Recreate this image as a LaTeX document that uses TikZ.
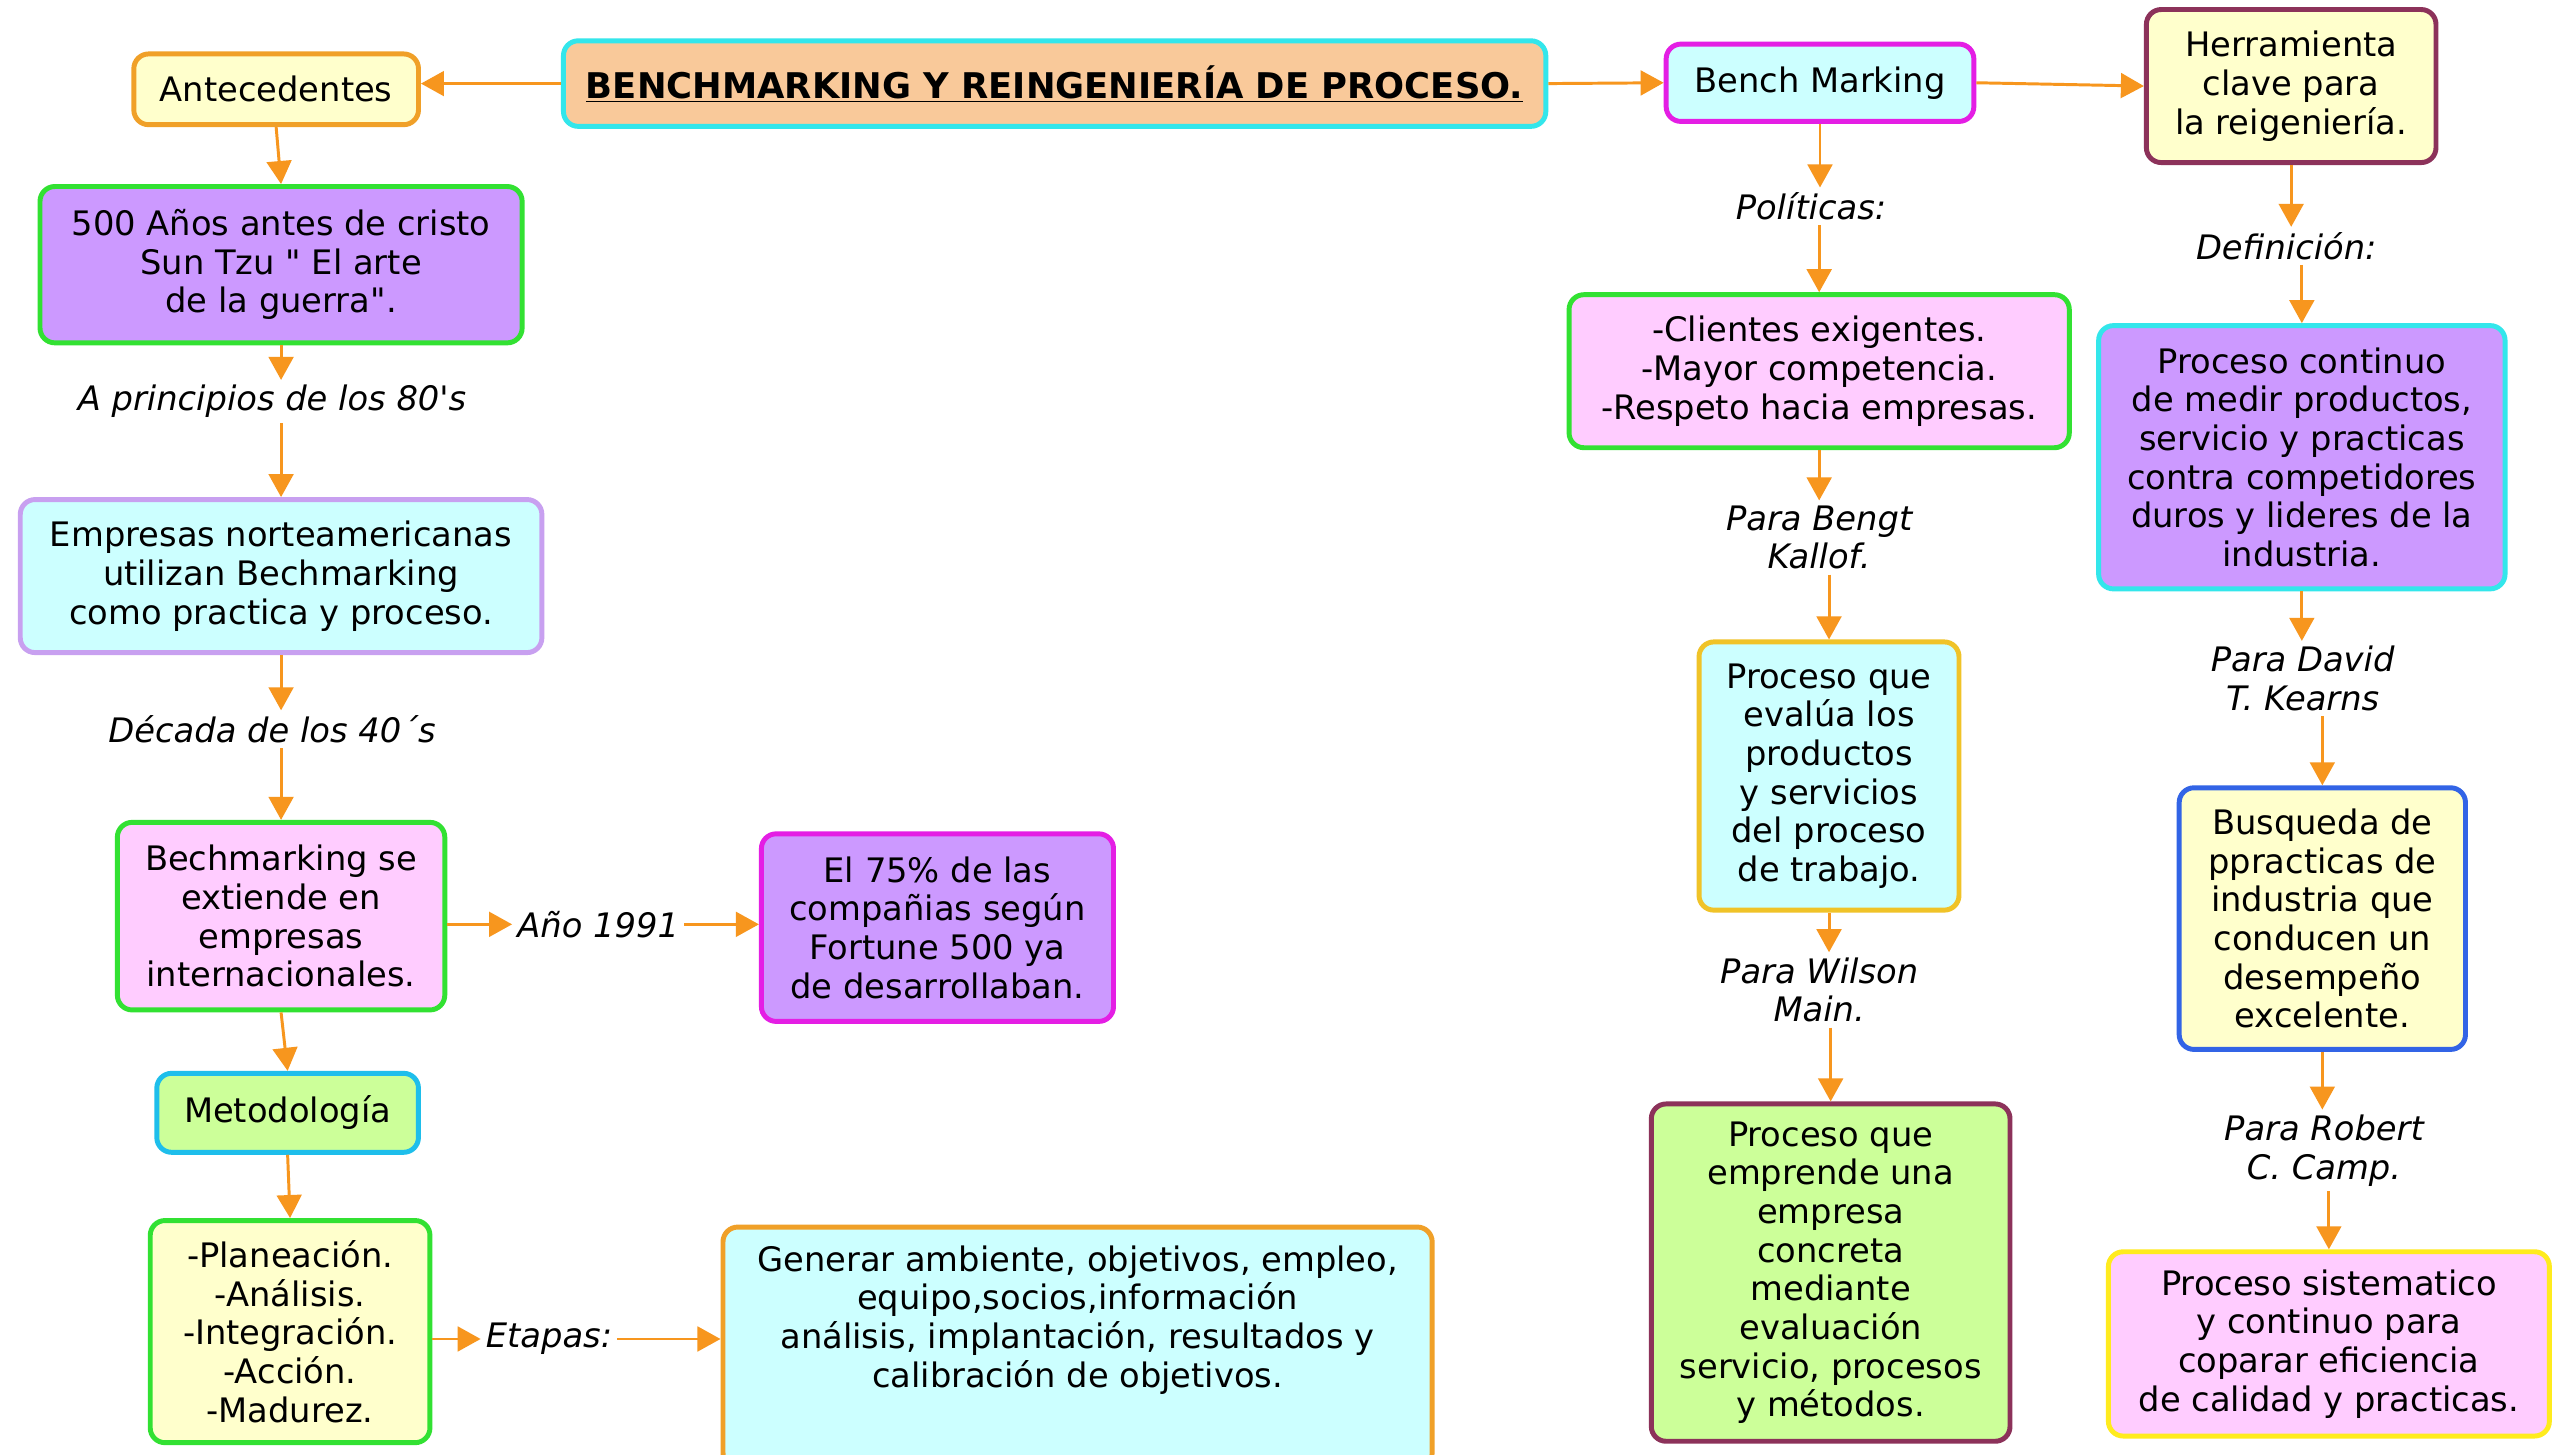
\documentclass[tikz,border=0pt]{standalone}
\usepackage{fontspec}
\setmainfont{DejaVu Sans}[Ligatures=TeXOff]
\usetikzlibrary{arrows.meta}
\definecolor{arrc}{RGB}{247,150,30}
\definecolor{peach}{RGB}{249,201,154}
\definecolor{cyanb}{RGB}{51,230,235}
\definecolor{lyel}{RGB}{255,255,204}
\definecolor{orab}{RGB}{240,160,40}
\definecolor{magb}{RGB}{228,30,228}
\definecolor{lcyan}{RGB}{204,255,255}
\definecolor{marb}{RGB}{140,50,90}
\definecolor{purp}{RGB}{204,153,255}
\definecolor{grnb}{RGB}{50,225,50}
\definecolor{lavb}{RGB}{200,160,240}
\definecolor{pink}{RGB}{255,204,255}
\definecolor{lgrn}{RGB}{204,255,153}
\definecolor{metb}{RGB}{30,190,235}
\definecolor{goldb}{RGB}{240,195,40}
\definecolor{blueb}{RGB}{50,100,230}
\definecolor{yelb}{RGB}{255,235,30}
\tikzset{
  box/.style={rounded corners=9pt, line width=3pt, align=center, inner sep=0pt,
    font=\fontsize{20.5}{23.5}\selectfont},
  lbl/.style={align=center, inner sep=3pt, font=\fontsize{20.5}{23.5}\selectfont\itshape},
  arr/.style={draw=arrc, line width=1.8pt, -{Triangle[length=14pt,width=15pt]}},
}
\begin{document}
\begin{tikzpicture}[x=0.996pt,y=-0.996pt]
\useasboundingbox[fill=white] (0,0) rectangle (1566.3,887.2);
% boxes
\node[box, draw=cyanb, fill=peach, minimum width=597pt, minimum height=52pt] (title) at (643.5,51)
  {\fontsize{21.5}{23.5}\selectfont\bfseries\underline{BENCHMARKING Y REINGENIERÍA DE PROCESO.}};
\node[box, draw=orab, fill=lyel, minimum width=173pt, minimum height=43pt] (ante) at (168.5,54.5) {Antecedentes};
\node[box, draw=magb, fill=lcyan, minimum width=187pt, minimum height=47pt] (bench) at (1110.5,50.5) {Bench Marking};
\node[box, draw=marb, fill=lyel, minimum width=176pt, minimum height=93pt] (herr) at (1398,52.5) {Herramienta\\clave para\\la reigeniería.};
\node[box, draw=grnb, fill=purp, minimum width=293pt, minimum height=95pt] (sun) at (171.5,161.5) {500 Años antes de cristo\\Sun Tzu " El arte\\de la guerra".};
\node[box, draw=lavb, fill=lcyan, minimum width=317pt, minimum height=93pt] (emp) at (171.5,351.5) {Empresas norteamericanas\\utilizan Bechmarking\\como practica y proceso.};
\node[box, draw=grnb, fill=pink, minimum width=199pt, minimum height=114pt] (ext) at (171.5,559) {Bechmarking se\\extiende en\\empresas\\internacionales.};
\node[box, draw=magb, fill=purp, minimum width=214pt, minimum height=114pt] (p75) at (572,566) {El 75\% de las\\compañias según\\Fortune 500 ya\\de desarrollaban.};
\node[box, draw=metb, fill=lgrn, minimum width=159pt, minimum height=48pt] (met) at (175.5,679) {Metodología};
\node[box, draw=grnb, fill=lyel, minimum width=170pt, minimum height=135pt] (plan) at (177,812.5) {-Planeación.\\-Análisis.\\-Integración.\\-Acción.\\-Madurez.};
\node[box, draw=orab, fill=lcyan, minimum width=431pt, minimum height=146pt] (gen) at (657.5,822) {Generar ambiente, objetivos, empleo,\\equipo,socios,información\\análisis, implantación, resultados y\\calibración de objetivos.\\[14pt]\mbox{}};
\node[box, draw=grnb, fill=pink, minimum width=304pt, minimum height=93pt] (cli) at (1110,226.5) {-Clientes exigentes.\\-Mayor competencia.\\-Respeto hacia empresas.};
\node[box, draw=goldb, fill=lcyan, minimum width=158pt, minimum height=163pt] (eval) at (1116,473.5) {Proceso que\\evalúa los\\productos\\y servicios\\del proceso\\de trabajo.};
\node[box, draw=marb, fill=lgrn, minimum width=218pt, minimum height=205pt] (empr) at (1117,776.5) {Proceso que\\emprende una\\empresa\\concreta\\mediante\\evaluación\\servicio, procesos\\y métodos.};
\node[box, draw=cyanb, fill=purp, minimum width=247pt, minimum height=160pt] (cont) at (1404.5,279) {Proceso continuo\\de medir productos,\\servicio y practicas\\contra competidores\\duros y lideres de la\\industria.};
\node[box, draw=blueb, fill=lyel, minimum width=174pt, minimum height=159pt] (busq) at (1417,560.5) {Busqueda de\\ppracticas de\\industria que\\conducen un\\desempeño\\excelente.};
\node[box, draw=yelb, fill=pink, minimum width=268pt, minimum height=112pt] (sist) at (1421,820) {Proceso sistematico\\y continuo para\\coparar eficiencia\\de calidad y practicas.};
% labels
\node[lbl] (l80) at (166,245) {A principios de los 80's};
\node[lbl] (l40) at (166,445) {Década de los 40´s};
\node[lbl] (l91) at (365,564) {Año 1991};
\node[lbl] (letap) at (335,817) {Etapas:};
\node[lbl] (lpol) at (1105,126) {Políticas:};
\node[lbl] (lbengt) at (1110,328) {Para Bengt\\Kallof.};
\node[lbl] (lwil) at (1110,604) {Para Wilson\\Main.};
\node[lbl] (ldef) at (1395,150) {Definición:};
\node[lbl] (ldav) at (1405,414) {Para David\\T. Kearns};
\node[lbl] (lrob) at (1418,702) {Para Robert\\C. Camp.};
% connectors
\draw[arr] (title.west) -- (ante.east |- title.west);
\draw[arr] (title.east) -- (bench.west);
\draw[arr] (bench.east) -- (herr.west);
\draw[arr] (ante.south) -- (sun.north);
\draw[arr] (sun.south) -- (sun.south |- l80.north);
\draw[arr] (emp.north |- l80.south) -- (emp.north);
\draw[arr] (emp.south) -- (emp.south |- l40.north);
\draw[arr] (ext.north |- l40.south) -- (ext.north);
\draw[arr] (ext.east |- l91.west) -- (l91.west);
\draw[arr] (l91.east) -- (p75.west |- l91.east);
\draw[arr] (ext.south) -- (met.north);
\draw[arr] (met.south) -- (plan.north);
\draw[arr] (plan.east |- letap.west) -- (letap.west);
\draw[arr] (letap.east) -- (gen.west |- letap.east);
\draw[arr] (bench.south) -- (bench.south |- lpol.north);
\draw[arr] (cli.north |- lpol.south) -- (cli.north);
\draw[arr] (cli.south) -- (cli.south |- lbengt.north);
\draw[arr] (eval.north |- lbengt.south) -- (eval.north);
\draw[arr] (eval.south) -- (eval.south |- lwil.north);
\draw[arr] (empr.north |- lwil.south) -- (empr.north);
\draw[arr] (herr.south) -- (herr.south |- ldef.north);
\draw[arr] (cont.north |- ldef.south) -- (cont.north);
\draw[arr] (cont.south) -- (cont.south |- ldav.north);
\draw[arr] (busq.north |- ldav.south) -- (busq.north);
\draw[arr] (busq.south) -- (busq.south |- lrob.north);
\draw[arr] (sist.north |- lrob.south) -- (sist.north);
\end{tikzpicture}
\end{document}
